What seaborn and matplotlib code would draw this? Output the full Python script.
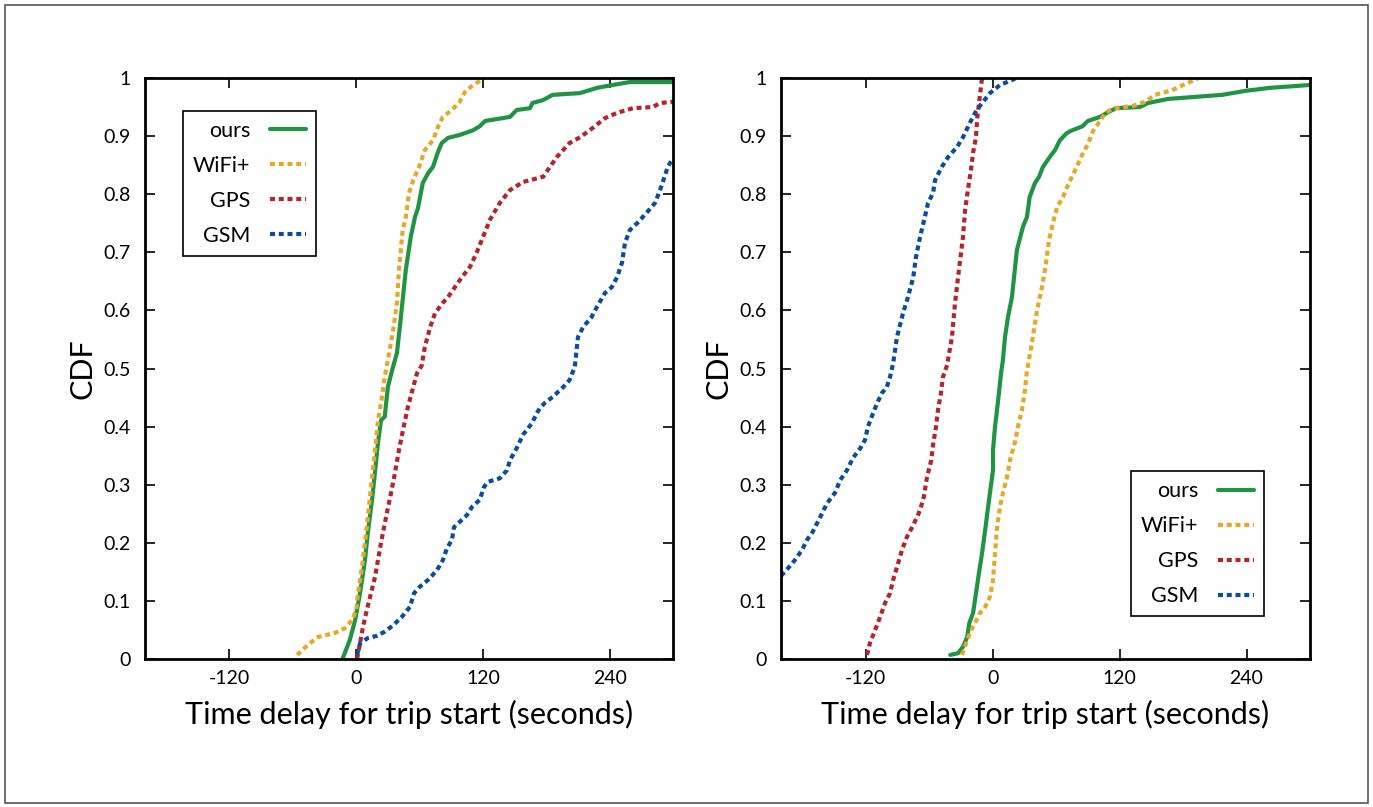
import matplotlib
matplotlib.use("Agg")
import matplotlib.pyplot as plt
import seaborn as sns
from matplotlib.patches import Rectangle

# left panel (a)
a_ours_x = [-13, -6, -1, 3.6, 8.3, 11, 15, 18, 20.6, 23.5, 27, 30, 34, 38.6, 42, 47, 51.6, 55.7, 58.5,
            63, 68, 72.7, 77.5, 81, 87, 98, 110.6, 117, 122, 145.6, 152, 164.6, 167, 177, 186, 212,
            228, 243, 259, 300]
a_ours_y = [0, 0.033, 0.067, 0.113, 0.17, 0.217, 0.274, 0.325, 0.372, 0.411, 0.417, 0.468, 0.497, 0.527,
            0.583, 0.67, 0.726, 0.761, 0.776, 0.819, 0.836, 0.847, 0.873, 0.888, 0.897, 0.902, 0.91,
            0.917, 0.926, 0.933, 0.945, 0.948, 0.957, 0.962, 0.971, 0.974, 0.983, 0.988, 0.993, 0.993]

a_wifi_x = [-56, -44, -36, -20, -10.6, -4, 0, 1.7, 5.5, 10, 14, 17.8, 20.6, 24, 27, 30, 35, 38.6, 40.5,
            44, 47, 50, 54, 59.5, 65, 72.7, 77.5, 82, 90.7, 98, 103, 110.6, 119, 121]
a_wifi_y = [0.007, 0.027, 0.038, 0.045, 0.053, 0.067, 0.084, 0.113, 0.158, 0.227, 0.296, 0.36, 0.41,
            0.446, 0.485, 0.515, 0.566, 0.613, 0.67, 0.738, 0.761, 0.802, 0.824, 0.847, 0.876, 0.893,
            0.916, 0.933, 0.945, 0.959, 0.976, 0.988, 0.997, 1.0]

a_gps_x = [0.8, 3.6, 6.4, 10, 14, 17.8, 20.6, 24, 29, 33, 36.7, 40.5, 45, 49, 54, 57.6, 62, 65, 70,
           74.6, 82, 87, 93.5, 100, 107.8, 114, 120, 126.7, 136, 145.6, 158, 177, 183.5, 190, 202,
           212, 224, 235.6, 247, 262, 281, 287.7, 300]
a_gps_y = [0, 0.027, 0.055, 0.084, 0.113, 0.141, 0.17, 0.205, 0.251, 0.286, 0.32, 0.36, 0.4, 0.434,
           0.468, 0.492, 0.505, 0.537, 0.571, 0.595, 0.613, 0.623, 0.64, 0.657, 0.675, 0.699, 0.726,
           0.756, 0.785, 0.807, 0.821, 0.83, 0.847, 0.864, 0.888, 0.898, 0.914, 0.931, 0.94, 0.948,
           0.95, 0.957, 0.959]

a_gsm_x = [0.8, 3.6, 11, 19.7, 27, 35, 43, 51, 54.7, 60, 68, 76.5, 82, 86, 90.7, 92.6, 98, 105,
           109.7, 117, 121, 124.8, 136, 142.8, 145.6, 152, 158, 166.5, 171, 174, 178.8, 186, 196,
           202, 207, 210, 214.8, 223, 228, 235.6, 242, 247, 251.7, 254.5, 259, 266, 275, 283,
           287.7, 292, 295, 300]
a_gsm_y = [0.007, 0.027, 0.036, 0.04, 0.047, 0.058, 0.072, 0.09, 0.113, 0.124, 0.136, 0.153, 0.17,
           0.191, 0.205, 0.227, 0.236, 0.248, 0.262, 0.274, 0.296, 0.305, 0.311, 0.325, 0.342, 0.363,
           0.386, 0.406, 0.423, 0.432, 0.441, 0.451, 0.468, 0.48, 0.503, 0.554, 0.571, 0.589, 0.606,
           0.63, 0.64, 0.657, 0.682, 0.716, 0.738, 0.75, 0.768, 0.785, 0.807, 0.83, 0.847, 0.862]

# right panel (b)
b_ours_x = [-40, -32.7, -28, -24, -22, -18.5, -15.7, -12.9, -10, -7, -5, -2.5, 0.4, 0.4, 2.3, 4.2, 6,
            8, 9.8, 11.7, 14.6, 18.3, 21, 23, 28.7, 32.5, 35, 40, 43.9, 47.6, 54, 59, 63.7, 70, 74,
            85, 90, 101.5, 109, 116.6, 139, 147, 166, 217, 239.5, 262, 300]
b_ours_y = [0.007, 0.01, 0.021, 0.038, 0.062, 0.079, 0.113, 0.148, 0.182, 0.222, 0.251, 0.286, 0.325,
            0.36, 0.4, 0.429, 0.458, 0.492, 0.515, 0.554, 0.589, 0.623, 0.67, 0.704, 0.744, 0.761,
            0.795, 0.819, 0.83, 0.847, 0.864, 0.876, 0.893, 0.905, 0.909, 0.917, 0.926, 0.933, 0.941,
            0.948, 0.95, 0.957, 0.964, 0.971, 0.978, 0.983, 0.988]

b_wifi_x = [-29, -25, -21.4, -16.6, -12, -7, -2.5, 0.4, 2.3, 4.2, 7, 9.8, 13.6, 16.4, 21, 24, 27.8,
            30.6, 32.5, 34.4, 38, 42, 46.7, 50.5, 53.3, 57, 61, 66.5, 72, 79, 85, 90, 95, 101.5, 107,
            115.7, 132.7, 144, 153.5, 169.6, 183.7, 195]
b_wifi_y = [0.007, 0.027, 0.045, 0.062, 0.079, 0.09, 0.107, 0.136, 0.182, 0.227, 0.262, 0.286, 0.313,
            0.342, 0.372, 0.4, 0.429, 0.463, 0.497, 0.515, 0.554, 0.6, 0.64, 0.682, 0.721, 0.75,
            0.778, 0.795, 0.819, 0.845, 0.869, 0.886, 0.909, 0.926, 0.941, 0.948, 0.952, 0.959, 0.971,
            0.979, 0.991, 1.0]

b_gps_x = [-118.7, -116, -111, -106.4, -101.7, -97, -94, -90.4, -85.6, -81, -76, -71.5, -68.6, -65,
           -62, -58, -56, -53.5, -51.6, -48.8, -47, -43, -38.4, -35.5, -31.8, -28, -26, -23, -20.4,
           -18.5, -15.7, -14.7, -12.8, -11, -10]
b_gps_y = [0.007, 0.027, 0.05, 0.072, 0.096, 0.113, 0.136, 0.158, 0.188, 0.21, 0.227, 0.244, 0.256,
           0.279, 0.313, 0.342, 0.372, 0.4, 0.429, 0.458, 0.485, 0.506, 0.554, 0.613, 0.67, 0.726,
           0.773, 0.812, 0.842, 0.871, 0.898, 0.928, 0.957, 0.985, 1.0]

b_gsm_x = [-200, -193, -187, -180, -175.4, -170, -163, -156.5, -149, -144, -137.6, -132, -125, -120.6,
           -117.8, -113, -109, -104.5, -100, -97, -94, -90.4, -84.7, -80, -75, -72.4, -68.6, -64,
           -61, -56.3, -54.4, -48, -42, -33.7, -28, -21.4, -15, -9, -2.5, 7, 19, 22]
b_gsm_y = [0.143, 0.157, 0.17, 0.188, 0.205, 0.219, 0.244, 0.268, 0.286, 0.308, 0.325, 0.346, 0.363,
           0.377, 0.4, 0.423, 0.441, 0.458, 0.468, 0.485, 0.509, 0.554, 0.595, 0.623, 0.657, 0.692,
           0.726, 0.761, 0.785, 0.802, 0.824, 0.847, 0.864, 0.881, 0.898, 0.923, 0.945, 0.959, 0.974,
           0.988, 0.997, 1.0]

labels = ["ours", "WiFi+", "GPS", "GSM"]
colors = ["#1f9444", "#e6a829", "#b3242c", "#0b4d9c"]
x_ticks = [-120, 0, 120, 240]
y_ticks = [0, 0.1, 0.2, 0.3, 0.4, 0.5, 0.6, 0.7, 0.8, 0.9, 1]
y_ticklabels = ["0", "0.1", "0.2", "0.3", "0.4", "0.5", "0.6", "0.7", "0.8", "0.9", "1"]

sns.set_style("ticks")
plt.rcParams["font.family"] = ["Lato", "DejaVu Sans"]
plt.rcParams["text.color"] = "black"
plt.rcParams["axes.labelcolor"] = "black"

fig = plt.figure(figsize=(13.73, 8.07), dpi=100)
ax1 = fig.add_axes([145 / 1373, 1 - 659 / 807, 528 / 1373, 581 / 807])
ax2 = fig.add_axes([781 / 1373, 1 - 659 / 807, 529 / 1373, 581 / 807])

fig.patches.append(Rectangle((5 / 1373, 4 / 807), 1363 / 1373, 798 / 807, transform=fig.transFigure,
                             fill=False, edgecolor="#555555", linewidth=1.2))

panels = [
    (ax1, [(a_ours_x, a_ours_y), (a_wifi_x, a_wifi_y), (a_gps_x, a_gps_y), (a_gsm_x, a_gsm_y)]),
    (ax2, [(b_ours_x, b_ours_y), (b_wifi_x, b_wifi_y), (b_gps_x, b_gps_y), (b_gsm_x, b_gsm_y)]),
]

for ax, series in panels:
    for i, (xs, ys) in enumerate(series):
        ls = "-" if i == 0 else (0, (1.2, 0.9))
        sns.lineplot(x=xs, y=ys, ax=ax, color=colors[i], linestyle=ls, linewidth=3.0,
                     sort=False, estimator=None, label=labels[i])
    ax.set_xlim(-200, 300)
    ax.set_ylim(0, 1)
    ax.set_xticks(x_ticks)
    ax.set_xticklabels([str(t) for t in x_ticks])
    ax.set_yticks(y_ticks)
    ax.set_yticklabels(y_ticklabels)
    ax.tick_params(direction="in", length=7, width=1.2, top=True, right=True,
                   labelsize=14, colors="black")
    ax.tick_params(axis="x", pad=8)
    ax.tick_params(axis="y", pad=10)
    for s in ax.spines.values():
        s.set_linewidth(2)
        s.set_color("black")
    ax.set_xlabel("Time delay for trip start (seconds)", fontsize=22, labelpad=9)
    ax.set_ylabel("CDF", fontsize=22, labelpad=5)

leg_kw = dict(markerfirst=False, frameon=True, fancybox=False, edgecolor="black", framealpha=1,
              fontsize=15.5, handlelength=1.7, labelspacing=0.7, borderpad=0.45, handletextpad=0.9,
              borderaxespad=0)
l1 = ax1.legend(loc="upper left", bbox_to_anchor=(0.072, 0.943), **leg_kw)
l2 = ax2.legend(loc="lower right", bbox_to_anchor=(0.913, 0.074), **leg_kw)
for leg in (l1, l2):
    leg.get_frame().set_linewidth(1.2)
    for t in leg.get_texts():
        t.set_ha("right")
        t.set_color("black")

fig.savefig("out.png", dpi=100)
